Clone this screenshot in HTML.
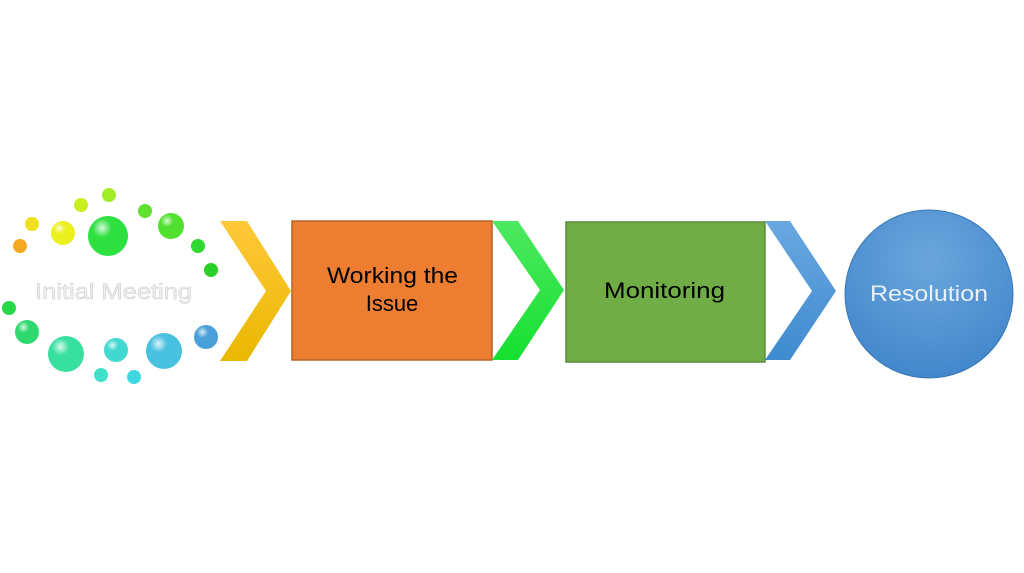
<!DOCTYPE html>
<html><head><style>body{margin:0;background:#fff}svg{display:block}</style></head><body>
<svg width="1024" height="573" viewBox="0 0 1024 573" xmlns="http://www.w3.org/2000/svg" font-family="Liberation Sans, sans-serif">
<defs>
<linearGradient id="gy" x1="0" y1="0" x2="0" y2="1"><stop offset="0" stop-color="#ffc83a"/><stop offset="1" stop-color="#e9b800"/></linearGradient>
<linearGradient id="gg" x1="0" y1="0" x2="0" y2="1"><stop offset="0" stop-color="#4de860"/><stop offset="1" stop-color="#16e030"/></linearGradient>
<linearGradient id="gb" x1="0" y1="0" x2="0" y2="1"><stop offset="0" stop-color="#6aa8e0"/><stop offset="1" stop-color="#3f8bd0"/></linearGradient>
<radialGradient id="gc" cx="0.5" cy="0.3" r="0.7"><stop offset="0" stop-color="#6aa6dc"/><stop offset="1" stop-color="#4387cc"/></radialGradient>
<radialGradient id="hl" cx="0.35" cy="0.3" r="0.6"><stop offset="0" stop-color="#fff" stop-opacity="0.8"/><stop offset="0.4" stop-color="#fff" stop-opacity="0"/></radialGradient>
</defs>
<polygon points="220,221 247,221 291,291 247,361 220,361 266,291" fill="url(#gy)"/>
<rect x="292" y="221" width="200" height="139" fill="#ed7d31" stroke="#b8612a" stroke-width="1.5"/>
<text x="327" y="283" font-size="22" textLength="131" lengthAdjust="spacingAndGlyphs" fill="#000">Working the</text>
<text x="392" y="311" font-size="22" text-anchor="middle" fill="#000">Issue</text>
<polygon points="492,221 518,221 564,290 518,360 492,360 540,290" fill="url(#gg)"/>
<rect x="566" y="222" width="199" height="140" fill="#70ad47" stroke="#5a8c3a" stroke-width="1.5"/>
<text x="604" y="298" font-size="22" textLength="121" lengthAdjust="spacingAndGlyphs" fill="#000">Monitoring</text>
<polygon points="765,221 790,221 836,291 790,360 765,360 812,291" fill="url(#gb)"/>
<circle cx="929" cy="294" r="84" fill="url(#gc)" stroke="#3a78b5" stroke-width="1"/>
<text x="870" y="301" font-size="22" textLength="118" lengthAdjust="spacingAndGlyphs" fill="#e8f0f8">Resolution</text>
<text x="35" y="299" font-size="22" textLength="157" lengthAdjust="spacingAndGlyphs" fill="#f0f0f0" stroke="#d0d0d0" stroke-width="0.6">Initial Meeting</text>
<g>
<circle cx="20" cy="246" r="7" fill="#f5a820"/>
<circle cx="32" cy="224" r="7" fill="#f0e020"/>
<circle cx="63" cy="233" r="12" fill="#ecf020"/>
<circle cx="81" cy="205" r="7" fill="#c8ee20"/>
<circle cx="109" cy="195" r="7" fill="#a0ec28"/>
<circle cx="108" cy="236" r="20" fill="#2ee040"/>
<circle cx="145" cy="211" r="7" fill="#60e030"/>
<circle cx="171" cy="226" r="13" fill="#50e030"/>
<circle cx="198" cy="246" r="7" fill="#30d830"/>
<circle cx="211" cy="270" r="7" fill="#28d028"/>
<circle cx="9" cy="308" r="7" fill="#28d848"/>
<circle cx="27" cy="332" r="12" fill="#30d870"/>
<circle cx="66" cy="354" r="18" fill="#38e0a0"/>
<circle cx="116" cy="350" r="12" fill="#40d8d0"/>
<circle cx="164" cy="351" r="18" fill="#48c0e0"/>
<circle cx="206" cy="337" r="12" fill="#4aa0d8"/>
<circle cx="101" cy="375" r="7" fill="#40e0c8"/>
<circle cx="134" cy="377" r="7" fill="#40d8e0"/>
</g>
<g fill="url(#hl)">
<circle cx="63" cy="233" r="12"/><circle cx="108" cy="236" r="20"/><circle cx="171" cy="226" r="13"/><circle cx="66" cy="354" r="18"/><circle cx="164" cy="351" r="18"/><circle cx="116" cy="350" r="12"/><circle cx="206" cy="337" r="12"/><circle cx="27" cy="332" r="12"/>
</g>
</svg>
</body></html>
